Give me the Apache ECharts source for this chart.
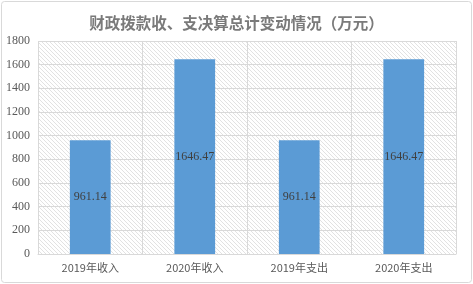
<!DOCTYPE html>
<html><head><meta charset="utf-8">
<script src="https://cdn.jsdelivr.net/npm/echarts@6/dist/echarts.min.js"></script>
<style>html,body{margin:0;padding:0;background:#fff}#c{width:473px;height:284px}</style>
</head><body><div id="c"></div>
<script>
const categories = ['2019年收入','2020年收入','2019年支出','2020年支出'];
const values = [961.14, 1646.47, 961.14, 1646.47];
const titleText = '财政拨款收、支决算总计变动情况（万元）';

const pc = document.createElement('canvas');
pc.width = 4; pc.height = 4;
const g = pc.getContext('2d');
g.strokeStyle = '#e2e2e2'; g.lineWidth = 1;
g.beginPath();
g.moveTo(-1,-1); g.lineTo(5,5);
g.moveTo(-1,3); g.lineTo(1,5);
g.moveTo(3,-1); g.lineTo(5,1);
g.stroke();

const chart = echarts.init(document.getElementById('c'), null, {renderer:'canvas'});
chart.setOption({
  animation:false,
  backgroundColor:'#fff',
  title:{text:titleText,left:'center',top:10,textStyle:{fontFamily:'Noto Sans CJK SC',fontSize:15.5,fontWeight:'bold',color:'#7a7a7a'}},
  graphic:[{type:'rect',shape:{x:1.5,y:1.5,width:470,height:281,r:3},style:{fill:'none',stroke:'#d9d9d9',lineWidth:1},silent:true,z:-1}],
  grid:{left:38,right:17,top:41,bottom:30,show:true,backgroundColor:{image:pc,repeat:'repeat'},borderWidth:0},
  xAxis:{type:'category',data:categories,
    axisLine:{lineStyle:{color:'#d9d9d9'}},axisTick:{show:false},
    splitLine:{show:true,lineStyle:{color:'#d9d9d9'}},
    axisLabel:{color:'#595959',fontFamily:'Noto Sans CJK SC',fontSize:11,margin:8}},
  yAxis:{type:'value',min:0,max:1800,interval:200,
    axisLine:{show:false},axisTick:{show:false},
    splitLine:{lineStyle:{color:'#d9d9d9'}},
    axisLabel:{color:'#595959',fontFamily:'Liberation Serif',fontSize:12,margin:8,formatter:v=>String(v)}},
  series:[{type:'bar',data:values,barWidth:'39%',
    itemStyle:{color:'#5b9bd5'},
    label:{show:true,position:'inside',color:'#404040',fontFamily:'Liberation Serif',fontSize:12}}]
});
</script></body></html>
